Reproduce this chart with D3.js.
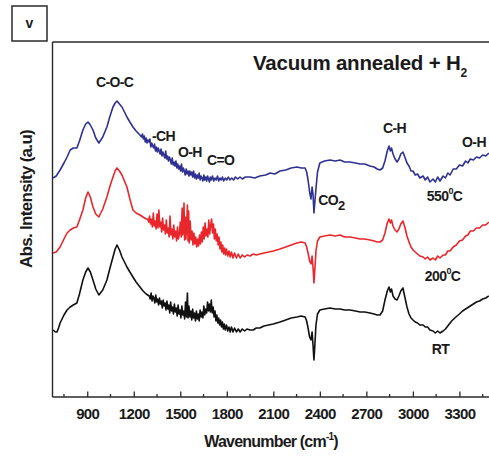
<!DOCTYPE html>
<html>
<head>
<meta charset="utf-8">
<script src="https://cdn.jsdelivr.net/npm/d3@7"></script>
<style>
  html, body { margin: 0; padding: 0; background: #fff; }
  svg { display: block; font-family: "Liberation Sans", Arial, sans-serif; }
</style>
</head>
<body>
<svg id="chart" width="489" height="456"></svg>
<script>
// FTIR spectra: [wavenumber (cm^-1), absorbance (a.u., offset per trace)]
const spectrumRT = [[680,67],[695,65],[705,65],[715,69],[725,74],[750,82],[770,87],[790,90],[810,92],[833,94],[850,103],[872,117],[890,125],[905,129],[920,125],[937,117],[955,108],[975,102],[1000,107],[1027,117],[1045,128],[1066,140],[1080,148],[1092,152],[1108,147],[1124,140],[1140,135],[1156,130],[1175,125],[1195,120],[1215,115],[1240,110],[1260,106],[1280,103],[1290,102],
[1300,101],[1306,98],[1312,104],[1318,96],[1324,101],[1330,99],[1336,94],[1342,102],[1348,95],[1354,98],[1360,92],[1366,99],[1372,93],[1378,96],[1384,89],[1390,97],[1396,91],[1402,94],[1408,87],[1414,96],[1420,88],[1426,92],[1432,84],[1438,95],[1444,86],[1450,90],[1456,83],[1462,93],[1468,85],[1474,89],[1480,81],[1486,92],[1492,83],[1498,87],[1504,79],[1510,91],[1516,82],[1522,86],[1528,78],[1534,95],[1540,80],[1546,104],[1550,79],[1556,91],[1562,80],[1568,86],[1574,77],[1580,88],[1586,79],[1592,84],[1598,76],[1604,86],[1610,78],[1616,83],[1622,76],[1628,87],[1634,80],[1640,85],[1646,79],[1652,91],[1658,82],[1664,88],[1670,84],[1676,95],[1682,86],[1688,93],[1694,85],[1700,97],[1706,84],[1712,90],[1718,80],[1724,86],[1730,76],[1736,82],[1742,74],[1748,79],[1754,72],[1760,77],[1766,70],[1772,75],[1778,68],[1784,73],[1790,67],[1798,72],[1806,66],[1814,70],[1822,65],[1830,70],[1840,65],[1850,69],[1862,65],[1874,68],[1886,65],[1900,68],[1915,66],[1930,68],[1950,67],
[1970,67],[1990,69],[2013,69],[2040,71],[2070,72],[2100,73],[2143,75],[2180,77],[2215,79],[2252,80],[2280,81],[2305,80],[2315,76],[2324,69],[2334,60],[2343,57],[2350,65],[2356,52],[2362,37],[2368,52],[2375,72],[2385,83],[2400,87],[2430,88],[2465,89],[2500,88],[2530,88],[2560,87],[2594,87],[2630,86],[2660,85],[2690,85],[2723,84],[2750,83],[2770,82],[2788,82],[2805,86],[2820,97],[2835,106],[2846,110],[2855,105],[2862,108],[2872,101],[2885,98],[2898,97],[2910,101],[2922,106],[2936,109],[2948,100],[2962,90],[2975,83],[2988,79],[3001,77],[3015,75],[3030,74],[3045,72],[3066,72],[3080,70],[3095,70],[3110,67],[3130,66],[3145,64],[3160,66],[3175,64],[3195,66],[3210,68],[3230,72],[3250,76],[3270,79],[3300,83],[3320,86],[3340,88],[3370,91],[3390,93],[3410,95],[3430,96],[3450,98],[3470,99],[3490,101]];

const spectrum200 = [[680,144],[700,145],[725,150],[750,158],[770,164],[790,167],[810,169],[833,170],[850,177],[872,187],[890,199],[905,205],[920,200],[937,190],[955,183],[975,180],[1000,188],[1027,200],[1045,210],[1066,220],[1080,226],[1092,229],[1108,226],[1124,222],[1140,216],[1156,210],[1175,198],[1195,187],[1215,184],[1240,182],[1260,180],[1280,178],
[1290,178],[1296,175],[1302,181],[1308,173],[1314,178],[1320,170],[1326,184],[1332,171],[1338,176],[1344,168],[1350,183],[1356,169],[1362,187],[1368,170],[1374,175],[1380,165],[1386,179],[1392,167],[1398,172],[1404,163],[1410,177],[1416,164],[1422,169],[1428,160],[1434,181],[1440,162],[1446,168],[1452,158],[1458,172],[1464,160],[1470,166],[1476,156],[1482,170],[1488,158],[1494,163],[1500,175],[1506,160],[1512,189],[1516,162],[1520,170],[1524,194],[1528,157],[1532,180],[1536,158],[1540,168],[1546,192],[1550,156],[1554,186],[1558,154],[1564,176],[1570,157],[1576,166],[1582,152],[1588,164],[1594,153],[1600,160],[1606,150],[1612,158],[1618,151],[1624,162],[1630,153],[1636,165],[1642,155],[1648,170],[1654,158],[1660,174],[1666,161],[1672,168],[1678,160],[1684,177],[1690,163],[1696,172],[1702,178],[1708,164],[1714,173],[1720,158],[1726,168],[1732,156],[1738,163],[1744,152],[1750,160],[1756,148],[1762,155],[1768,145],[1774,152],[1780,143],[1786,149],[1792,142],[1798,148],[1806,141],[1814,146],[1822,140],[1830,145],[1840,139],[1850,144],[1862,139],[1874,143],[1886,139],[1900,142],[1915,140],[1930,142],[1950,141],
[1970,143],[1990,142],[2013,143],[2040,144],[2070,145],[2100,146],[2143,148],[2180,150],[2215,152],[2252,154],[2280,155],[2305,154],[2315,150],[2324,144],[2334,136],[2343,133],[2350,141],[2356,130],[2362,114],[2368,128],[2375,146],[2385,156],[2400,160],[2430,161],[2465,162],[2500,161],[2530,162],[2560,160],[2594,160],[2630,159],[2660,158],[2690,158],[2723,157],[2750,156],[2770,155],[2788,155],[2805,157],[2820,164],[2835,174],[2846,178],[2855,174],[2862,177],[2872,171],[2885,167],[2898,165],[2910,168],[2922,173],[2936,176],[2948,170],[2962,161],[2975,155],[2988,150],[3001,147],[3015,145],[3030,143],[3045,141],[3066,140],[3080,138],[3095,140],[3110,137],[3130,139],[3145,137],[3160,141],[3175,139],[3195,142],[3210,142],[3225,146],[3240,146],[3260,150],[3280,152],[3300,156],[3320,157],[3340,161],[3355,162],[3370,166],[3390,166],[3410,169],[3430,169],[3450,172],[3470,172],[3490,175]];

const spectrum550 = [[680,219],[700,221],[725,227],[750,234],[770,240],[790,247],[810,249],[833,249],[850,256],[872,267],[890,273],[905,275],[920,272],[937,267],[955,259],[975,254],[1000,260],[1027,270],[1045,280],[1066,290],[1080,294],[1092,296],[1108,293],[1124,290],[1140,285],[1156,280],[1175,275],[1195,270],[1215,266],[1240,262],
[1250,260],[1256,263],[1262,258],[1268,261],[1274,255],[1280,259],[1286,254],[1292,257],[1298,255],[1304,258],[1310,250],[1316,254],[1322,251],[1328,249],[1334,253],[1340,246],[1346,250],[1352,245],[1358,249],[1364,246],[1370,243],[1376,248],[1382,241],[1388,245],[1394,242],[1400,239],[1406,246],[1412,238],[1418,241],[1424,236],[1430,240],[1436,237],[1442,233],[1448,239],[1454,232],[1460,235],[1466,231],[1472,236],[1478,229],[1484,233],[1490,228],[1496,231],[1502,226],[1508,233],[1514,225],[1520,229],[1526,226],[1532,222],[1538,228],[1544,223],[1550,226],[1556,221],[1562,226],[1568,222],[1574,225],[1580,220],[1586,226],[1592,219],[1598,223],[1604,218],[1610,222],[1616,219],[1622,224],[1628,217],[1634,221],[1640,219],[1646,216],[1652,222],[1658,217],[1664,220],[1670,216],[1676,221],[1682,218],[1688,215],[1694,220],[1700,217],[1708,221],[1716,216],[1724,219],[1732,217],[1740,221],[1748,216],[1756,219],[1764,217],[1772,220],[1780,216],[1790,219],[1800,217],[1810,220],[1820,217],[1832,219],[1844,217],[1856,220],[1870,218],[1885,220],[1900,218],[1920,220],[1950,220],
[1980,219],[2013,221],[2050,222],[2080,224],[2110,223],[2143,226],[2180,227],[2215,229],[2252,230],[2280,229],[2305,229],[2315,225],[2324,217],[2334,205],[2343,198],[2350,210],[2356,203],[2362,184],[2368,195],[2375,208],[2385,225],[2400,234],[2430,236],[2465,237],[2500,236],[2530,237],[2560,235],[2594,235],[2630,234],[2660,233],[2690,233],[2723,231],[2750,230],[2770,228],[2788,227],[2805,229],[2820,236],[2835,246],[2846,251],[2855,246],[2862,249],[2872,243],[2885,238],[2898,235],[2910,238],[2922,243],[2936,245],[2948,240],[2962,234],[2975,231],[2988,226],[3001,226],[3015,222],[3030,223],[3045,219],[3066,221],[3080,217],[3095,220],[3110,215],[3130,218],[3145,215],[3160,220],[3175,216],[3195,221],[3210,219],[3225,224],[3240,222],[3260,228],[3280,228],[3300,232],[3320,231],[3340,236],[3355,234],[3370,238],[3390,237],[3410,240],[3430,239],[3450,242],[3470,241],[3490,244]];

const seriesNames = ["RT", "200", "550"];
const seriesColors = ["#111111", "#e8262b", "#2e3192"];
const majorTicks = [900, 1200, 1500, 1800, 2100, 2400, 2700, 3000, 3300];
const minorTicks = [750, 1050, 1350, 1650, 1950, 2250, 2550, 2850, 3150, 3450];

// band assignments: [text, subscript, wavenumber, absorbance]
const bandLabels = [
  ["C-O-C", "", 956, 310],
  ["-CH", "", 1317, 256],
  ["O-H", "", 1485, 240],
  ["C=O", "", 1672, 232],
  ["CO", "2", 2389, 192],
  ["C-H", "", 2807, 264],
  ["O-H", "", 3317, 250]
];
// trace labels: [prefix, superscript, suffix, wavenumber, absorbance]
const traceLabels = [
  ["550", "0", "C", 3090, 196],
  ["200", "0", "C", 3077, 116],
  ["RT", "", "", 3122, 43]
];

const svg = d3.select("#chart");
const W = 489, H = 456;
const plotLeft = 52.5, plotTop = 42, plotBottom = 397;

const x = d3.scaleLinear().domain([676, 3300]).range([plotLeft, 459.4]);
const y = d3.scaleLinear().domain([0, 355]).range([plotBottom, plotTop]);

const ink = "#2a2a2a";

// clip traces to the plotting frame
svg.append("defs").append("clipPath").attr("id", "plotClip")
  .append("rect").attr("x", plotLeft).attr("y", plotTop)
  .attr("width", W - plotLeft).attr("height", plotBottom - plotTop);

const line = d3.line().x(d => x(d[0])).y(d => y(d[1]));
const traces = [spectrumRT, spectrum200, spectrum550];
svg.append("g").attr("clip-path", "url(#plotClip)")
  .selectAll("path").data(traces).join("path")
  .attr("d", line)
  .attr("fill", "none")
  .attr("stroke", (d, i) => seriesColors[i])
  .attr("stroke-width", 1.6)
  .attr("stroke-linejoin", "round");

// frame: top border and left axis line
svg.append("line").attr("x1", plotLeft).attr("x2", W).attr("y1", plotTop).attr("y2", plotTop)
  .attr("stroke", ink).attr("stroke-width", 1.4);
svg.append("line").attr("x1", plotLeft).attr("x2", plotLeft).attr("y1", plotTop).attr("y2", plotBottom)
  .attr("stroke", ink).attr("stroke-width", 1.4);

// bottom axis with inward ticks
const xAxis = d3.axisBottom(x).tickValues(majorTicks).tickFormat(d3.format("d"))
  .tickSizeInner(-5.5).tickSizeOuter(0).tickPadding(11);
const gx = svg.append("g").attr("transform", `translate(0,${plotBottom})`).call(xAxis);
gx.select(".domain").remove();
gx.append("line").attr("x1", plotLeft).attr("x2", W).attr("y1", 0).attr("y2", 0)
  .attr("stroke", ink).attr("stroke-width", 1.4);
gx.selectAll(".tick line").attr("stroke", ink).attr("stroke-width", 1.3);
gx.selectAll(".tick text")
  .attr("fill", "#1a1a1a")
  .attr("font-family", "Liberation Sans, Arial, sans-serif")
  .attr("font-size", 15).attr("font-weight", "bold").attr("letter-spacing", -0.6);
gx.selectAll(".minor").data(minorTicks).join("line")
  .attr("class", "minor")
  .attr("x1", d => x(d)).attr("x2", d => x(d)).attr("y1", 0).attr("y2", -3)
  .attr("stroke", ink).attr("stroke-width", 1.3);

// axis titles
const xt = svg.append("text").attr("x", 271).attr("y", 447).attr("text-anchor", "middle")
  .attr("font-size", 16).attr("font-weight", "bold").attr("letter-spacing", -0.8).attr("fill", "#1a1a1a");
xt.append("tspan").text("Wavenumber (cm");
xt.append("tspan").attr("font-size", 10).attr("dy", -7).text("-1");
xt.append("tspan").attr("dy", 7).text(")");

svg.append("text").attr("transform", "translate(32,199) rotate(-90)").attr("text-anchor", "middle")
  .attr("font-size", 17).attr("font-weight", "bold").attr("letter-spacing", -0.7).attr("fill", "#1a1a1a")
  .text("Abs. Intensity (a.u)");

// panel title
const title = svg.append("text").attr("x", 253).attr("y", 70)
  .attr("font-size", 20.5).attr("font-weight", "bold").attr("letter-spacing", -0.2).attr("fill", "#1a1a1a");
title.append("tspan").text("Vacuum annealed + H");
title.append("tspan").attr("font-size", 12).attr("dy", 7).text("2");

// panel tag
svg.append("rect").attr("x", 12).attr("y", 6).attr("width", 35).attr("height", 35)
  .attr("fill", "none").attr("stroke", ink).attr("stroke-width", 1.5);
svg.append("text").attr("x", 29.5).attr("y", 28).attr("text-anchor", "middle")
  .attr("font-size", 14).attr("font-weight", "bold").attr("fill", "#1a1a1a").text("v");

// band assignment labels
bandLabels.forEach(([t, sub, wn, a]) => {
  const txt = svg.append("text").attr("x", x(wn)).attr("y", y(a))
    .attr("font-size", 14).attr("font-weight", "bold").attr("letter-spacing", -0.6).attr("fill", "#1a1a1a");
  txt.append("tspan").text(t);
  if (sub) txt.append("tspan").attr("font-size", 13).attr("dy", 5).text(sub);
});

// trace labels
traceLabels.forEach(([t, sup, suf, wn, a]) => {
  const txt = svg.append("text").attr("x", x(wn)).attr("y", y(a))
    .attr("font-size", 14).attr("font-weight", "bold").attr("letter-spacing", -0.6).attr("fill", "#1a1a1a");
  txt.append("tspan").text(t);
  if (sup) {
    txt.append("tspan").attr("font-size", 9).attr("dy", -7).text(sup);
    txt.append("tspan").attr("dy", 7).text(suf);
  }
});
</script>
</body>
</html>
